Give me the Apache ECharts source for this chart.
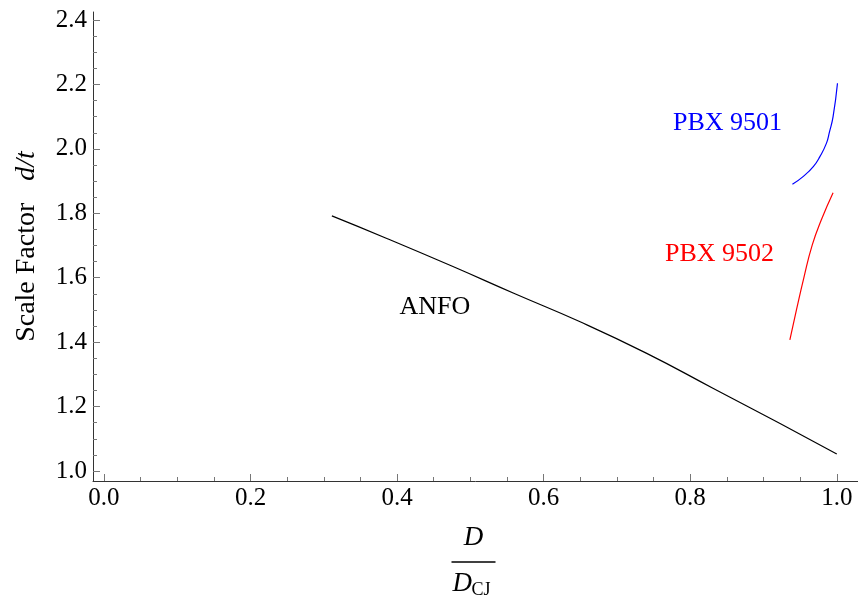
<!DOCTYPE html>
<html>
<head>
<meta charset="utf-8">
<script src="https://cdn.jsdelivr.net/npm/echarts@6/dist/echarts.min.js"></script>
<style>html,body{margin:0;padding:0;background:#fff;}#c{width:858px;height:602px;}</style>
</head>
<body>
<div id="c"></div>
<script>
// ---- data ----
const anfoX = [0.311, 0.386, 0.477, 0.56, 0.649, 0.74, 0.831, 0.922, 1.0];
const anfoY = [1.792, 1.722, 1.634, 1.551, 1.464, 1.366, 1.257, 1.148, 1.053];
const pbx9501X = [0.9395, 0.954, 0.968, 0.977, 0.986, 0.990, 0.995, 1.001];
const pbx9501Y = [1.890, 1.914, 1.945, 1.976, 2.018, 2.052, 2.100, 2.204];
const pbx9502X = [0.936, 0.945, 0.955, 0.9666, 0.979, 0.995];
const pbx9502Y = [1.407, 1.500, 1.599, 1.702, 1.780, 1.864];
const labelNames = ['ANFO', 'PBX 9501', 'PBX 9502'];
const labelX = [0.4516, 0.851, 0.840];
const labelY = [1.510, 2.081, 1.674];
const labelColors = ['#000000', '#0000ff', '#ff0000'];
const xTicks = [0, 0.2, 0.4, 0.6, 0.8, 1.0];
const yTicks = [1.0, 1.2, 1.4, 1.6, 1.8, 2.0, 2.2, 2.4];
const xMinorTicks = [];
for (let i = 0; i <= 20; i++) xMinorTicks.push(+(i * 0.05).toFixed(2));
const yMinorTicks = [];
for (let i = 0; i <= 28; i++) yMinorTicks.push(+(1 + i * 0.05).toFixed(2));

const zip = (xs, ys) => xs.map((x, i) => [x, ys[i]]);
const FONT = "'Liberation Serif', 'Times New Roman', serif";
const axisColor = '#333';
const tickColor = '#777';

const xMin = -0.015, xMax = 1.029, yMin = 0.969, yMax = 2.425;

const chart = echarts.init(document.getElementById('c'), null, {renderer: 'canvas'});
chart.setOption({
  animation: false,
  backgroundColor: '#fff',
  grid: {left: 93, right: 0, top: 12, bottom: 121, containLabel: false},
  xAxis: [{
    type: 'value', min: xMin, max: xMax, position: 'bottom',
    axisLine: {onZero: false, lineStyle: {color: axisColor, width: 1}},
    axisTick: {inside: true, length: 7, customValues: xTicks, lineStyle: {color: tickColor}},
    axisLabel: {customValues: xTicks, formatter: v => v.toFixed(1), color: '#000', fontFamily: FONT, fontSize: 25, margin: 5},
    splitLine: {show: false}
  }, {
    type: 'value', min: xMin, max: xMax, position: 'bottom',
    axisLine: {show: false, onZero: false},
    axisTick: {inside: true, length: 4, customValues: xMinorTicks, lineStyle: {color: tickColor}},
    axisLabel: {show: false},
    splitLine: {show: false}
  }],
  yAxis: [{
    type: 'value', min: yMin, max: yMax, position: 'left',
    axisLine: {show: true, onZero: false, lineStyle: {color: axisColor, width: 1}},
    axisTick: {show: true, inside: true, length: 7, customValues: yTicks, lineStyle: {color: tickColor}},
    axisLabel: {customValues: yTicks, formatter: v => v.toFixed(1), color: '#000', fontFamily: FONT, fontSize: 25, margin: 6},
    splitLine: {show: false},
    name: '{a|Scale Factor}{g|}{b|d/t}',
    nameLocation: 'middle', nameRotate: 90, nameGap: 52,
    nameTextStyle: {
      rich: {
        a: {fontFamily: FONT, fontSize: 28, color: '#000'},
        g: {width: 22},
        b: {fontFamily: FONT, fontSize: 28, fontStyle: 'italic', color: '#000'}
      }
    }
  }, {
    type: 'value', min: yMin, max: yMax, position: 'left',
    axisLine: {show: false, onZero: false},
    axisTick: {show: true, inside: true, length: 4, customValues: yMinorTicks, lineStyle: {color: tickColor}},
    axisLabel: {show: false},
    splitLine: {show: false}
  }],
  series: [{
    type: 'line', name: 'ANFO', data: zip(anfoX, anfoY), smooth: 0.5, showSymbol: false,
    lineStyle: {color: '#000', width: 1.2}
  }, {
    type: 'line', name: 'PBX 9501', data: zip(pbx9501X, pbx9501Y), smooth: 0.5, showSymbol: false,
    lineStyle: {color: '#0000ff', width: 1.2}
  }, {
    type: 'line', name: 'PBX 9502', data: zip(pbx9502X, pbx9502Y), smooth: 0.5, showSymbol: false,
    lineStyle: {color: '#ff0000', width: 1.2}
  }, {
    type: 'scatter', symbolSize: 0, silent: true, itemStyle: {opacity: 1},
    data: labelNames.map((n, i) => ({
      value: [labelX[i], labelY[i]], name: n,
      label: {show: true, position: 'inside', formatter: n, color: labelColors[i], opacity: 1, fontFamily: FONT, fontSize: 26}
    }))
  }],
  graphic: [{
    type: 'group', left: 449, top: 524,
    children: [
      {type: 'text', x: 22, y: 0, style: {text: 'D', font: "italic 27px 'Liberation Serif', serif", fill: '#000', align: 'center'}},
      {type: 'line', shape: {x1: 0, y1: 38, x2: 44, y2: 38}, style: {stroke: '#000', lineWidth: 1.3}},
      {type: 'text', x: 1, y: 46, style: {text: 'D', font: "italic 27px 'Liberation Serif', serif", fill: '#000'}},
      {type: 'text', x: 20, y: 57, style: {text: 'CJ', font: "18px 'Liberation Serif', serif", fill: '#000'}}
    ]
  }]
});
</script>
</body>
</html>
